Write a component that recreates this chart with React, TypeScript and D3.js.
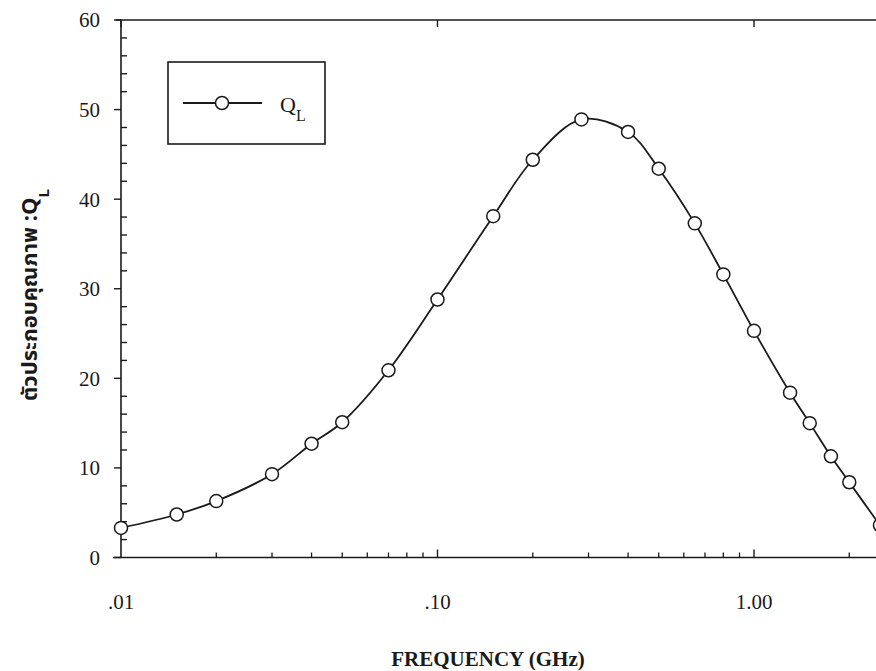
import React, { useRef, useEffect } from 'react';
import * as d3 from 'd3';

// Frequency (GHz) and loaded Q.
const freqGHz = [0.01, 0.015, 0.02, 0.03, 0.04, 0.05, 0.07, 0.1, 0.15, 0.2, 0.285, 0.4, 0.5, 0.65, 0.8, 1.0, 1.3, 1.5, 1.75, 2.0, 2.5];
const qLoaded = [3.3, 4.8, 6.3, 9.3, 12.7, 15.1, 20.9, 28.8, 38.1, 44.4, 48.9, 47.5, 43.4, 37.3, 31.6, 25.3, 18.4, 15.0, 11.3, 8.4, 3.6];

const xTickValues = [0.01, 0.1, 1];
const xTickLabels = ['.01', '.10', '1.00'];
const yTickValues = [0, 10, 20, 30, 40, 50, 60];

const App = () => {
  const ref = useRef<SVGSVGElement>(null);

  useEffect(() => {
    const svg = d3.select(ref.current);
    svg.selectAll('*').remove();

    const W = 876;
    const H = 671;
    const ink = '#1a1a1a';
    const serif = '"Liberation Serif", "Times New Roman", serif';

    // log x axis, clipped at the right edge of the picture
    const x = d3.scaleLog().domain([0.01, 1]).range([121, 754]);
    const y = d3.scaleLinear().domain([0, 60]).range([557.5, 20]);
    const left = x(0.01);
    const bottom = y(0);
    const top = y(60);

    const g = svg.append('g');

    // frame lines
    g.append('line').attr('x1', 113).attr('x2', W + 10).attr('y1', bottom).attr('y2', bottom)
      .attr('stroke', ink).attr('stroke-width', 1.6);
    g.append('line').attr('x1', 116).attr('x2', W + 10).attr('y1', top).attr('y2', top)
      .attr('stroke', ink).attr('stroke-width', 1.6);
    g.append('line').attr('x1', left).attr('x2', left).attr('y1', top).attr('y2', bottom)
      .attr('stroke', ink).attr('stroke-width', 1.6);

    // y ticks: major outward, minor inward
    g.selectAll('.ymaj').data(yTickValues).join('line')
      .attr('x1', left - 7).attr('x2', left)
      .attr('y1', d => y(d)).attr('y2', d => y(d))
      .attr('stroke', ink).attr('stroke-width', 1.4);
    const yMinor = d3.range(0, 60, 2).filter(v => v % 10 !== 0);
    g.selectAll('.ymin').data(yMinor).join('line')
      .attr('x1', left).attr('x2', left + 6)
      .attr('y1', d => y(d)).attr('y2', d => y(d))
      .attr('stroke', ink).attr('stroke-width', 1.4);

    g.selectAll('.ylab').data(yTickValues).join('text')
      .attr('x', 100).attr('y', d => y(d)).attr('dy', '0.35em')
      .attr('text-anchor', 'end')
      .style('font-family', serif).style('font-size', '21px').attr('fill', ink)
      .text(d => d);

    // x ticks: decades major, 2..9 minor, all pointing up into the plot
    const xMinor: number[] = [];
    [0.01, 0.1, 1].forEach(dec => {
      for (let k = 2; k <= 9; k++) xMinor.push(dec * k);
    });
    g.selectAll('.xmin').data(xMinor.filter(v => x(v) < W)).join('line')
      .attr('x1', d => x(d)).attr('x2', d => x(d))
      .attr('y1', bottom).attr('y2', bottom - 5)
      .attr('stroke', ink).attr('stroke-width', 1.3);
    g.selectAll('.xmaj').data(xTickValues.slice(1)).join('line')
      .attr('x1', d => x(d)).attr('x2', d => x(d))
      .attr('y1', bottom).attr('y2', bottom - 8)
      .attr('stroke', ink).attr('stroke-width', 1.4);
    g.selectAll('.xtop').data(xTickValues).join('line')
      .attr('x1', d => x(d)).attr('x2', d => x(d))
      .attr('y1', top).attr('y2', top + 7)
      .attr('stroke', ink).attr('stroke-width', 1.4);

    g.selectAll('.xlab').data(xTickValues).join('text')
      .attr('x', d => x(d)).attr('y', 609)
      .attr('text-anchor', 'middle')
      .style('font-family', serif).style('font-size', '21px').attr('fill', ink)
      .text((d, i) => xTickLabels[i]);

    // axis titles
    g.append('text')
      .attr('x', 488).attr('y', 666)
      .attr('text-anchor', 'middle')
      .style('font-family', serif).style('font-size', '21px').style('font-weight', 'bold')
      .attr('fill', ink)
      .text('FREQUENCY (GHz)');

    const yTitle = g.append('text')
      .attr('transform', 'translate(37, 295) rotate(-90)')
      .attr('text-anchor', 'middle')
      .style('font-family', '"Noto Sans Thai", Tahoma, "DejaVu Sans", sans-serif')
      .style('font-size', '22px').style('font-weight', 'bold')
      .attr('fill', ink);
    yTitle.append('tspan').text('ตัวประกอบคุณภาพ :Q');
    yTitle.append('tspan').attr('baseline-shift', 'sub').style('font-size', '15px').text('L');

    // data curve
    const pts: [number, number][] = freqGHz.map((f, i) => [x(f), y(qLoaded[i])]);
    const line = d3.line().curve(d3.curveCatmullRom.alpha(0.5));
    g.append('path')
      .attr('d', line(pts))
      .attr('fill', 'none').attr('stroke', ink).attr('stroke-width', 1.8);

    g.selectAll('.pt').data(pts).join('circle')
      .attr('cx', d => d[0]).attr('cy', d => d[1]).attr('r', 6.5)
      .attr('fill', '#fff').attr('stroke', ink).attr('stroke-width', 1.5);

    // legend
    const legend = g.append('g');
    legend.append('rect')
      .attr('x', 168).attr('y', 62).attr('width', 157).attr('height', 82)
      .attr('fill', '#fff').attr('stroke', ink).attr('stroke-width', 1.6);
    legend.append('line')
      .attr('x1', 183).attr('x2', 262).attr('y1', 103).attr('y2', 103)
      .attr('stroke', ink).attr('stroke-width', 1.8);
    legend.append('circle')
      .attr('cx', 222).attr('cy', 103).attr('r', 6.5)
      .attr('fill', '#fff').attr('stroke', ink).attr('stroke-width', 1.5);
    const legText = legend.append('text')
      .attr('x', 280).attr('y', 112)
      .style('font-family', serif).style('font-size', '22px').attr('fill', ink);
    legText.append('tspan').text('Q');
    legText.append('tspan').attr('baseline-shift', 'sub').style('font-size', '16px').text('L');

    svg.attr('width', W).attr('height', H);
  }, []);

  return (
    <svg ref={ref} width={876} height={671}
      style={{ position: 'absolute', left: 0, top: 0, background: '#fff' }} />
  );
};

export default App;
